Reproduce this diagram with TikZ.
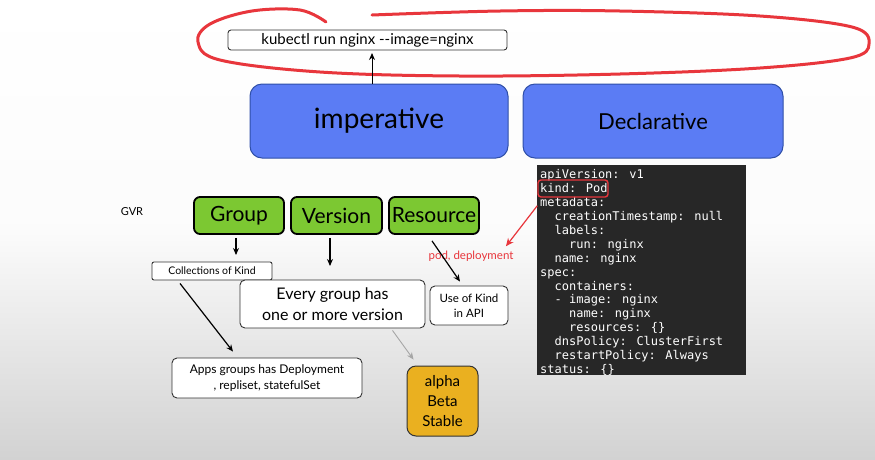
\documentclass[tikz,border=0pt]{standalone}
\usepackage{fontspec}
\setmainfont{Lato}
\newfontfamily\codefont{DejaVu Sans Mono}
\usetikzlibrary{arrows.meta,calc}
\definecolor{bluebox}{HTML}{5B7CF4}
\definecolor{blueedge}{HTML}{2F4FA8}
\definecolor{greenbox}{HTML}{7CC832}
\definecolor{yellowbox}{HTML}{EAB020}
\definecolor{codebg}{HTML}{272727}
\definecolor{redink}{HTML}{E8363C}
\definecolor{bgbottom}{HTML}{D2D2D2}
\tikzset{
  sketchbox/.style={draw=black!80, line width=0.9pt, rounded corners=5pt, fill=white, align=center, inner sep=0pt},
  bluebig/.style={draw=blueedge, line width=1pt, fill=bluebox, rounded corners=12pt, inner sep=0pt},
  greenbox/.style={draw=black, line width=1.8pt, fill=greenbox, rounded corners=6pt, inner sep=0pt, font=\fontsize{21}{24}\selectfont},
  arr/.style={-{Stealth[length=7pt,width=6pt]}, line width=1.2pt, black},
}
\begin{document}
\begin{tikzpicture}[x=1pt,y=-1pt]
\shade[top color=white, bottom color=bgbottom, middle color=white!92!bgbottom] (0,0) rectangle (875,459);
\useasboundingbox (0,0) rectangle (875,459);

% red ellipse
\draw[redink, line width=3pt, line cap=round]
  plot[smooth, tension=0.6] coordinates {(326,22) (300,10) (252,11) (210,24) (198,42) (220,60) (320,72) (460,76) (620,74) (760,68) (850,58) (869,44) (852,27) (760,16) (620,11) (500,11) (372,15)};

% command
\node[sketchbox, minimum width=279pt, minimum height=20pt, rounded corners=3pt, font=\fontsize{15}{17}\selectfont] (cmd) at (367.5,40) {kubectl run nginx {-}{-}image=nginx};

% top boxes
\node[bluebig, minimum width=258pt, minimum height=74pt, font=\fontsize{28}{30}\selectfont] (imp) at (379,121) {imperative};
\node[bluebig, minimum width=260pt, minimum height=74pt, font=\fontsize{22}{24}\selectfont] (dec) at (653,121) {Declarative};
\draw[arr, line width=1pt] (imp.north -| 372,0) -- (372,53) coordinate (cmdin);

% code
\node[fill=codebg, minimum width=209pt, minimum height=210pt, inner sep=0pt] (code) at (641.5,270) {};
\node[anchor=north west, inner sep=0pt, text=white, align=left, font=\codefont\fontsize{12}{13.9}\selectfont] (yaml) at (540,169.5) {%
apiVersion: v1\\
kind: Pod\\
metadata:\\
\ \ creationTimestamp: null\\
\ \ labels:\\
\ \ \ \ run: nginx\\
\ \ name: nginx\\
spec:\\
\ \ containers:\\
\ \ - image: nginx\\
\ \ \ \ name: nginx\\
\ \ \ \ resources: \{\}\\
\ \ dnsPolicy: ClusterFirst\\
\ \ restartPolicy: Always\\
status: \{\}};
\node[draw=redink, line width=1.4pt, rounded corners=3pt, minimum width=70pt, minimum height=17pt, inner sep=0pt] (kindbox) at (573,188.5) {};

% GVR
\node[font=\fontsize{11}{13}\selectfont] (gvr) at (132,212) {GVR};
\node[greenbox, minimum width=90pt, minimum height=37pt] (group) at (239,215.5) {Group};
\node[greenbox, minimum width=91pt, minimum height=37pt] (version) at (336.5,215.5) {Version};
\node[greenbox, minimum width=90pt, minimum height=37pt] (resource) at (434,215.5) {Resource};

\node[sketchbox, rounded corners=2pt, minimum width=120pt, minimum height=18pt, font=\fontsize{10.5}{12}\selectfont] (coll) at (212,271) {Collections of Kind};
\node[sketchbox, minimum width=185pt, minimum height=48pt, font=\fontsize{16}{21}\selectfont] (every) at (332.5,304) {Every group has\\one or more version};
\node[sketchbox, minimum width=78pt, minimum height=39pt, font=\fontsize{11.5}{15}\selectfont] (use) at (469,305.5) {Use of Kind\\in API};
\node[sketchbox, minimum width=190pt, minimum height=40pt, font=\fontsize{12}{16}\selectfont] (apps) at (267,378) {Apps groups has Deployment\\, repliset, statefulSet};
\node[draw=black!80, line width=1pt, fill=yellowbox, rounded corners=9pt, minimum width=71pt, minimum height=70pt, inner sep=0pt, align=center, font=\fontsize{15}{20}\selectfont] (abs) at (442.5,401) {alpha\\Beta\\Stable};

\node[text=redink, font=\fontsize{11.5}{13}\selectfont] (pod) at (471,256) {pod, deployment};

% connectors
\draw[arr] (group.south -| 236,0) ++(0,3) -- (236,255);
\draw[arr] (version.south -| 330,0) ++(0,3) -- (330,266);
\draw[arr] ($(resource.south)+(-2,6)$) -- ($(use.north)+(-9,-4)$);
\draw[arr] ($(coll.south)+(-32,3)$) -- ($(apps.north)+(-34,-6)$);
\draw[-{Stealth[length=7pt,width=6pt]}, line width=0.9pt, black!35] ($(every.south)+(60,2)$) -- ($(abs.north)+(-29,-6)$);
\draw[-{Stealth[length=8pt,width=7pt]}, redink, line width=1.2pt] (kindbox.south west) ++(0,8) -- ($(pod.north east)+(-11,-1)$);
\end{tikzpicture}
\end{document}
